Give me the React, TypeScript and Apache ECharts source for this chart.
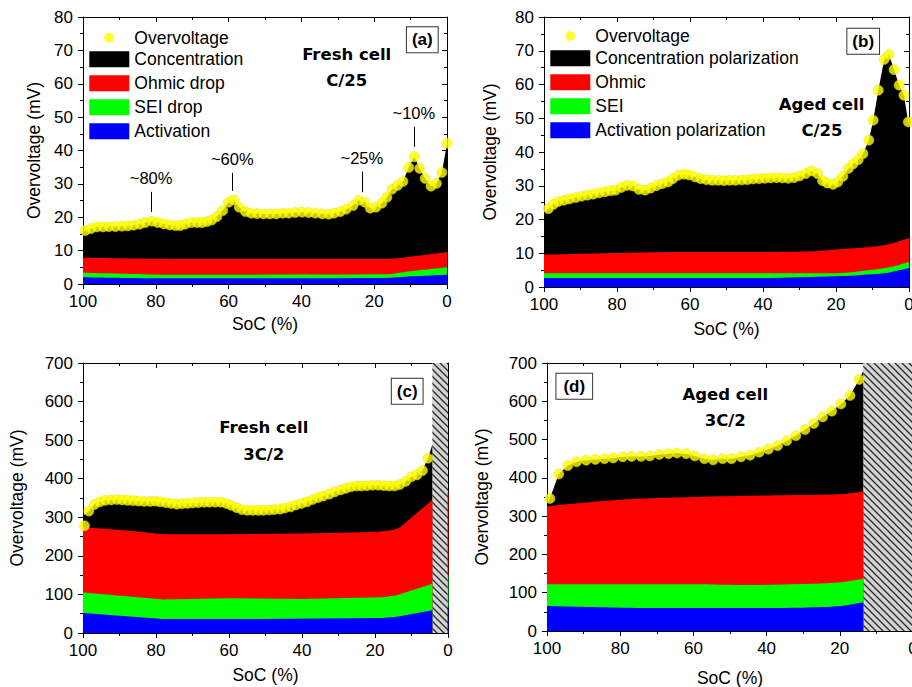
import React, { useEffect, useRef } from "react";
import * as echarts from "echarts";

const FONT = '"Liberation Sans", Arial, sans-serif';
const BOLD_FONT = '"DejaVu Sans", sans-serif';

// ---------- Axis ticks ----------
const socTicks = { min: 0, max: 100, interval: 20 };
const mvTicksLow = { min: 0, max: 80, interval: 10 };
const mvTicksHigh = { min: 0, max: 700, interval: 100 };

// ---------- Series names ----------
const namesA = ["Overvoltage", "Concentration", "Ohmic drop", "SEI drop", "Activation"];
const namesB = ["Overvoltage", "Concentration polarization", "Ohmic", "SEI", "Activation polarization"];

// ---------- Panel (a) Fresh cell C/25 : [SoC %, mV] ----------
const overvoltageA = [
  [99.4, 16.0], [97.8, 16.6], [96.2, 17.1], [94.5, 17.1], [92.9, 17.2], [91.1, 17.2], [89.3, 17.3],
  [87.7, 17.4], [86.1, 17.6], [84.4, 17.9], [82.9, 18.4], [81.0, 18.8], [79.5, 18.4], [77.8, 18.0],
  [76.2, 17.7], [74.6, 17.5], [73.3, 17.5], [71.9, 17.9], [70.3, 18.4], [68.7, 18.4], [67.3, 18.4],
  [65.9, 18.7], [64.6, 19.2], [63.2, 20.2], [61.6, 22.0], [60.0, 24.5], [58.6, 25.2], [57.1, 23.0],
  [55.4, 21.7], [53.8, 21.2], [52.2, 21.1], [50.4, 21.0], [48.7, 21.0], [46.9, 21.0], [45.1, 21.2],
  [43.5, 21.2], [41.7, 21.4], [39.8, 21.5], [38.0, 21.4], [36.2, 21.2], [34.3, 21.0], [32.5, 20.9],
  [31.0, 21.2], [29.3, 21.7], [27.7, 22.4], [25.8, 23.5], [24.3, 25.1], [22.6, 24.5], [21.1, 22.7],
  [19.5, 23.0], [17.9, 24.2], [16.5, 26.0], [15.1, 28.4], [13.6, 29.5], [12.1, 30.7], [10.5, 34.9],
  [9.0, 38.1], [7.5, 34.6], [6.0, 31.6], [4.4, 29.3], [2.9, 30.1], [1.4, 33.4], [0.0, 42.2],
];
const concTopStartA = [100, 15.5];
const ohmicTopA = [[100, 7.9], [80, 7.6], [70, 7.5], [17, 7.5], [10, 8.2], [0, 9.6]];
const seiTopA = [[100, 3.4], [85, 3.0], [78, 2.8], [17, 2.9], [10, 3.8], [0, 5.0]];
const actTopA = [[100, 2.0], [80, 1.7], [17, 1.8], [10, 2.3], [0, 2.8]];

// arrows + labels in panel (a)
const arrowLabels = ["~80%", "~60%", "~25%", "~10%"];
const arrowSoC = [81.3, 59.0, 23.4, 9.1];
const arrowFrom = [27.6, 33.3, 33.7, 47.1];
const arrowTo = [21.6, 27.9, 27.5, 41.1];

// ---------- Panel (b) Aged cell C/25 ----------
const overvoltageB = [
  [98.8, 23.2], [97.4, 24.5], [96.1, 25.3], [94.5, 25.7], [93.0, 26.1], [91.3, 26.5], [89.7, 26.9],
  [88.1, 27.2], [86.5, 27.5], [84.9, 27.9], [83.3, 28.2], [81.7, 28.5], [80.4, 28.7], [78.8, 29.5],
  [77.2, 30.1], [75.6, 29.9], [74.0, 28.9], [72.3, 28.7], [70.8, 29.3], [69.2, 30.0], [67.6, 30.6],
  [66.0, 31.1], [64.7, 32.1], [63.2, 33.1], [61.6, 33.4], [60.3, 33.2], [58.6, 32.6], [57.1, 32.1],
  [55.5, 31.8], [53.9, 31.6], [52.3, 31.6], [50.7, 31.5], [49.1, 31.6], [47.5, 31.6], [45.8, 31.7],
  [44.3, 31.8], [42.7, 32.0], [41.1, 32.1], [39.5, 32.2], [37.9, 32.3], [36.3, 32.4], [34.7, 32.3],
  [33.1, 32.2], [31.5, 32.4], [30.0, 32.9], [28.3, 33.6], [26.7, 34.4], [25.1, 33.6], [23.7, 31.5],
  [22.4, 30.8], [20.8, 30.4], [19.5, 31.1], [18.1, 32.8], [16.6, 35.1], [15.3, 36.5], [13.9, 37.7],
  [12.6, 39.5], [11.0, 43.5], [9.8, 49.4], [8.4, 58.3], [6.8, 67.4], [5.5, 68.9], [4.1, 64.4],
  [2.7, 59.8], [1.4, 56.8], [0.2, 48.9],
];
const concTopStartB = [100, 21.7];
const concTopEndB = [0, 48.0];
const ohmicTopB = [[100, 9.6], [80, 10.1], [60, 10.4], [40, 10.4], [26, 10.6], [20, 11.1], [10, 11.9], [5, 12.8], [0, 14.5]];
const seiTopB = [[100, 4.1], [60, 4.1], [20, 4.1], [10, 5.1], [5, 5.9], [0, 7.4]];
const actTopB = [[100, 2.7], [40, 2.7], [20, 3.2], [10, 3.8], [5, 4.4], [0, 5.6]];

// ---------- Panel (c) Fresh cell 3C/2 ----------
const overvoltageC = [
  [99.6, 278], [98.4, 316], [96.9, 333], [95.4, 340], [93.9, 344], [92.3, 345], [90.7, 346], [89.3, 345],
  [87.8, 344], [86.3, 343], [84.8, 342], [83.2, 341], [81.6, 341], [80.2, 342], [78.9, 340], [77.3, 338],
  [75.8, 336], [74.3, 334], [72.9, 335], [71.4, 336], [69.9, 337], [68.4, 338], [66.8, 339], [65.4, 339],
  [63.8, 339], [62.3, 339], [60.8, 336], [59.4, 331], [57.9, 325], [56.5, 320], [55.0, 318], [53.5, 318],
  [52.0, 318], [50.6, 318], [49.0, 319], [47.6, 320], [46.0, 321], [44.7, 324], [43.1, 327], [41.7, 332],
  [40.1, 336], [38.6, 340], [37.1, 346], [35.6, 351], [34.2, 355], [32.5, 360], [31.0, 366], [29.4, 371],
  [28.0, 375], [26.6, 379], [25.1, 381], [23.7, 381], [22.2, 382], [20.7, 383], [19.1, 383], [17.6, 382],
  [16.1, 381], [14.6, 381], [13.2, 385], [11.6, 393], [10.0, 405], [8.5, 410], [7.0, 421], [5.5, 453],
];
const concTopStartC = [100, 304];
const concTopEndC = [4.3, 488];
const ohmicTopC = [[100, 274], [95, 271], [88, 266], [78, 256], [60, 256], [40, 258], [20, 262], [15, 267], [13, 275], [4.3, 345]];
const seiTopC = [[100, 105], [78, 87], [60, 90], [40, 88], [18, 93], [14, 98], [4.3, 128]];
const actTopC = [[100, 52], [78, 36], [60, 36], [18, 39], [14, 42], [4.3, 59]];
const cutoffC = 4.3;
// thin coloured traces at SoC 0 in (c): [from, to] in mV
const edgeRedC = [150, 365];
const edgeGreenC = [67, 150];
const edgeBlueC = [0, 67];

// ---------- Panel (d) Aged cell 3C/2 ----------
const overvoltageD = [
  [99.2, 346], [96.8, 410], [94.3, 432], [91.9, 442], [89.3, 446], [86.8, 448], [84.3, 450], [81.9, 452],
  [79.3, 455], [76.9, 456], [74.3, 456], [71.9, 457], [69.3, 461], [66.8, 463], [64.5, 465], [62.0, 463],
  [59.6, 457], [57.0, 450], [54.6, 447], [52.0, 450], [49.6, 450], [47.0, 455], [44.5, 459], [42.0, 467],
  [39.5, 475], [37.0, 484], [34.5, 497], [32.0, 510], [29.5, 526], [27.1, 542], [24.7, 559], [22.2, 574],
  [19.7, 593], [17.2, 615], [14.7, 657],
];
const concTopStartD = [100, 329];
const concTopEndD = [13.6, 679];
const ohmicTopD = [[100, 326], [80, 343], [60, 350], [40, 354], [20, 357], [13.6, 365]];
const seiTopD = [[100, 122], [60, 122], [45, 120], [30, 123], [20, 127], [13.6, 136.5]];
const actTopD = [[100, 65], [80, 61], [60, 60], [30, 61], [20, 65], [13.6, 75]];
const cutoffD = 13.6;

// ---------- helpers ----------
function makeHatch() {
  const s = 7;
  const c = document.createElement("canvas");
  c.width = s;
  c.height = s;
  const ctx = c.getContext("2d");
  if (ctx) {
    ctx.fillStyle = "#d3d3d3";
    ctx.fillRect(0, 0, s, s);
    ctx.strokeStyle = "#2a2a2a";
    ctx.lineWidth = 1.3;
    ctx.beginPath();
    ctx.moveTo(-1, -1);
    ctx.lineTo(s + 1, s + 1);
    ctx.moveTo(s - 2, -2);
    ctx.lineTo(s + 2, 2);
    ctx.moveTo(-2, s - 2);
    ctx.lineTo(2, s + 2);
    ctx.stroke();
  }
  return c;
}

const tickLabel = { fontSize: 17, color: "#000", fontFamily: FONT };
const axisName = { fontSize: 17.5, color: "#000", fontFamily: FONT };
const black = { color: "#000", width: 1 };

function xAxes(gi: number, nameGap: number) {
  const base = {
    type: "value",
    gridIndex: gi,
    inverse: true,
    min: socTicks.min,
    max: socTicks.max,
    interval: socTicks.interval,
    splitLine: { show: false },
    minorSplitLine: { show: false },
    axisLine: { show: true, onZero: false, lineStyle: black },
  };
  return [
    {
      ...base,
      position: "bottom",
      axisTick: { show: true, inside: false, length: 5, lineStyle: black },
      minorTick: { show: true, splitNumber: 2, length: 3, lineStyle: black },
      axisLabel: { ...tickLabel, margin: 9 },
      name: "SoC (%)",
      nameLocation: "middle",
      nameGap,
      nameTextStyle: axisName,
    },
    {
      ...base,
      position: "top",
      axisTick: { show: true, inside: true, length: 5, lineStyle: black },
      minorTick: { show: true, splitNumber: 2, length: 3, lineStyle: black },
      axisLabel: { show: false },
    },
  ];
}

function yAxes(gi: number, ticks: { min: number; max: number; interval: number }, nameGap: number) {
  const base = {
    type: "value",
    gridIndex: gi,
    min: ticks.min,
    max: ticks.max,
    interval: ticks.interval,
    splitLine: { show: false },
    minorSplitLine: { show: false },
    axisLine: { show: true, onZero: false, lineStyle: black },
  };
  return [
    {
      ...base,
      position: "left",
      axisTick: { show: true, inside: false, length: 5, lineStyle: black },
      minorTick: { show: true, splitNumber: 2, length: 3, lineStyle: black },
      axisLabel: { ...tickLabel, margin: 10 },
      name: "Overvoltage (mV)",
      nameLocation: "middle",
      nameGap,
      nameTextStyle: axisName,
    },
    {
      ...base,
      position: "right",
      axisTick: { show: true, inside: true, length: 5, lineStyle: black },
      minorTick: { show: true, splitNumber: 2, length: 3, lineStyle: black },
      axisLabel: { show: false },
    },
  ];
}

function band(gi: number, name: string, color: string, data: number[][], smooth: number, extra: any = {}) {
  return {
    type: "line",
    name,
    xAxisIndex: gi * 2,
    yAxisIndex: gi * 2,
    data,
    color,
    itemStyle: { color },
    symbol: "none",
    showSymbol: false,
    smooth,
    silent: true,
    lineStyle: { width: 0, color },
    areaStyle: { color, opacity: 1 },
    z: 2,
    ...extra,
  };
}

function dots(gi: number, data: number[][], extra: any = {}) {
  return {
    type: "scatter",
    name: "Overvoltage",
    xAxisIndex: gi * 2,
    yAxisIndex: gi * 2,
    data,
    symbolSize: 10,
    itemStyle: { color: "#ffff00", borderColor: "#e0e000", borderWidth: 0.6 },
    silent: true,
    z: 4,
    ...extra,
  };
}

function edgeLine(x: number, seg: number[], color: string) {
  return {
    silent: true,
    symbol: ["none", "none"],
    label: { show: false },
    lineStyle: { color, width: 1.5, type: "solid", opacity: 0.6 },
    data: [[{ coord: [x, seg[0]] }, { coord: [x, seg[1]] }]],
  };
}

function hatchArea(pattern: any, from: number) {
  return {
    silent: true,
    itemStyle: { color: { image: pattern, repeat: "repeat" }, borderWidth: 0 },
    data: [[{ xAxis: from }, { xAxis: 0 }]],
  };
}

const legendText = { fontSize: 17.5, fontFamily: FONT, color: "#000", lineHeight: 16 };

function legendPair(names: string[], left: number, topDot: number, topRects: number) {
  return [
    {
      data: [{ name: names[0], icon: "circle" }],
      left: left + 15,
      top: topDot,
      padding: 0,
      itemWidth: 40,
      itemHeight: 10,
      selectedMode: false,
      textStyle: legendText,
      itemStyle: { borderWidth: 0 },
    },
    {
      data: names.slice(1).map((n) => ({ name: n, icon: "rect" })),
      orient: "vertical",
      left,
      top: topRects,
      padding: 0,
      itemWidth: 40,
      itemHeight: 16,
      itemGap: 6,
      selectedMode: false,
      textStyle: legendText,
      itemStyle: { borderWidth: 0 },
    },
  ];
}

function caption(x: number, y: number, text: string) {
  return {
    type: "text",
    x,
    y,
    silent: true,
    style: {
      text,
      font: `bold 16.5px ${BOLD_FONT}`,
      fill: "#000",
      align: "center",
      verticalAlign: "middle",
    },
  };
}

function panelTag(x: number, y: number, text: string, padX: number) {
  return {
    type: "text",
    x,
    y,
    silent: true,
    z: 10,
    style: {
      text,
      font: `bold 17px ${FONT}`,
      fill: "#000",
      align: "center",
      verticalAlign: "middle",
      backgroundColor: "#fff",
      borderColor: "#333",
      borderWidth: 1,
      padding: [4, padX, 4, padX],
    },
  };
}

export default function App() {
  const ref = useRef<HTMLDivElement>(null);

  useEffect(() => {
    if (!ref.current) return;
    const chart = echarts.init(ref.current, null, { renderer: "svg" });
    const hatch = makeHatch();

    const option: any = {
      animation: false,
      textStyle: { fontFamily: FONT },
      grid: [
        { left: 83, top: 17, width: 364, height: 267, outerBoundsMode: "none", containLabel: false },
        { left: 544, top: 17, width: 365, height: 270, outerBoundsMode: "none", containLabel: false },
        { left: 83, top: 363, width: 365, height: 270, outerBoundsMode: "none", containLabel: false },
        { left: 547, top: 363, width: 366, height: 268, outerBoundsMode: "none", containLabel: false },
      ],
      xAxis: [...xAxes(0, 31), ...xAxes(1, 33), ...xAxes(2, 33), ...xAxes(3, 38)],
      yAxis: [
        ...yAxes(0, mvTicksLow, 40),
        ...yAxes(1, mvTicksLow, 45),
        ...yAxes(2, mvTicksHigh, 57),
        ...yAxes(3, mvTicksHigh, 56),
      ],
      legend: [...legendPair(namesA, 89.3, 28.7, 50.3), ...legendPair(namesB, 550.3, 27, 49.2)],
      graphic: [
        caption(346.7, 54.3, "Fresh cell"),
        caption(346.7, 80.7, "C/25"),
        caption(821.5, 104.3, "Aged cell"),
        caption(822, 130.7, "C/25"),
        caption(263.8, 427.7, "Fresh cell"),
        caption(263.7, 454.3, "3C/2"),
        caption(725.3, 394, "Aged cell"),
        caption(725.3, 420, "3C/2"),
        panelTag(422.3, 39.8, "(a)", 5),
        panelTag(863.2, 41.3, "(b)", 5),
        panelTag(407.2, 391.3, "(c)", 5),
        panelTag(574.3, 386.3, "(d)", 7),
      ],
      series: [
        // (a)
        band(0, namesA[1], "#000000", [concTopStartA, ...overvoltageA], 0),
        band(0, namesA[2], "#ff0000", ohmicTopA, 0.3),
        band(0, namesA[3], "#00ff00", seiTopA, 0.3),
        band(0, namesA[4], "#0000ff", actTopA, 0.3),
        dots(0, overvoltageA, {
          markLine: {
            silent: true,
            symbol: ["none", "arrow"],
            symbolSize: [0, 9],
            lineStyle: { color: "#000", width: 1, type: "solid" },
            label: {
              show: true,
              position: "start",
              formatter: "{b}",
              distance: 5,
              fontSize: 16.5,
              fontFamily: FONT,
              color: "#000",
            },
            data: arrowSoC.map((x, i) => [
              { name: arrowLabels[i], coord: [x, arrowFrom[i]] },
              { coord: [x, arrowTo[i]] },
            ]),
          },
        }),
        // (b)
        band(1, namesB[1], "#000000", [concTopStartB, ...overvoltageB, concTopEndB], 0),
        band(1, namesB[2], "#ff0000", ohmicTopB, 0.3),
        band(1, namesB[3], "#00ff00", seiTopB, 0.3),
        band(1, namesB[4], "#0000ff", actTopB, 0.3),
        dots(1, overvoltageB),
        // (c)
        band(2, namesA[1], "#000000", [concTopStartC, ...overvoltageC.slice(1), concTopEndC], 0, {
          markArea: hatchArea(hatch, cutoffC),
        }),
        band(2, namesA[2], "#ff0000", ohmicTopC, 0, { markLine: edgeLine(0, edgeRedC, "#ff0000") }),
        band(2, namesA[3], "#00ff00", seiTopC, 0, { markLine: edgeLine(0, edgeGreenC, "#00ff00") }),
        band(2, namesA[4], "#0000ff", actTopC, 0, { markLine: edgeLine(0, edgeBlueC, "#0000ff") }),
        dots(2, overvoltageC),
        // (d)
        band(3, namesB[1], "#000000", [concTopStartD, ...overvoltageD, concTopEndD], 0, {
          markArea: hatchArea(hatch, cutoffD),
        }),
        band(3, namesB[2], "#ff0000", ohmicTopD, 0.3),
        band(3, namesB[3], "#00ff00", seiTopD, 0.3),
        band(3, namesB[4], "#0000ff", actTopD, 0.3),
        dots(3, overvoltageD),
      ],
    };

    chart.setOption(option);
    return () => {
      chart.dispose();
    };
  }, []);

  return (
    <div
      ref={ref}
      style={{ position: "absolute", left: 0, top: 0, width: 912, height: 687, background: "#fff" }}
    />
  );
}
